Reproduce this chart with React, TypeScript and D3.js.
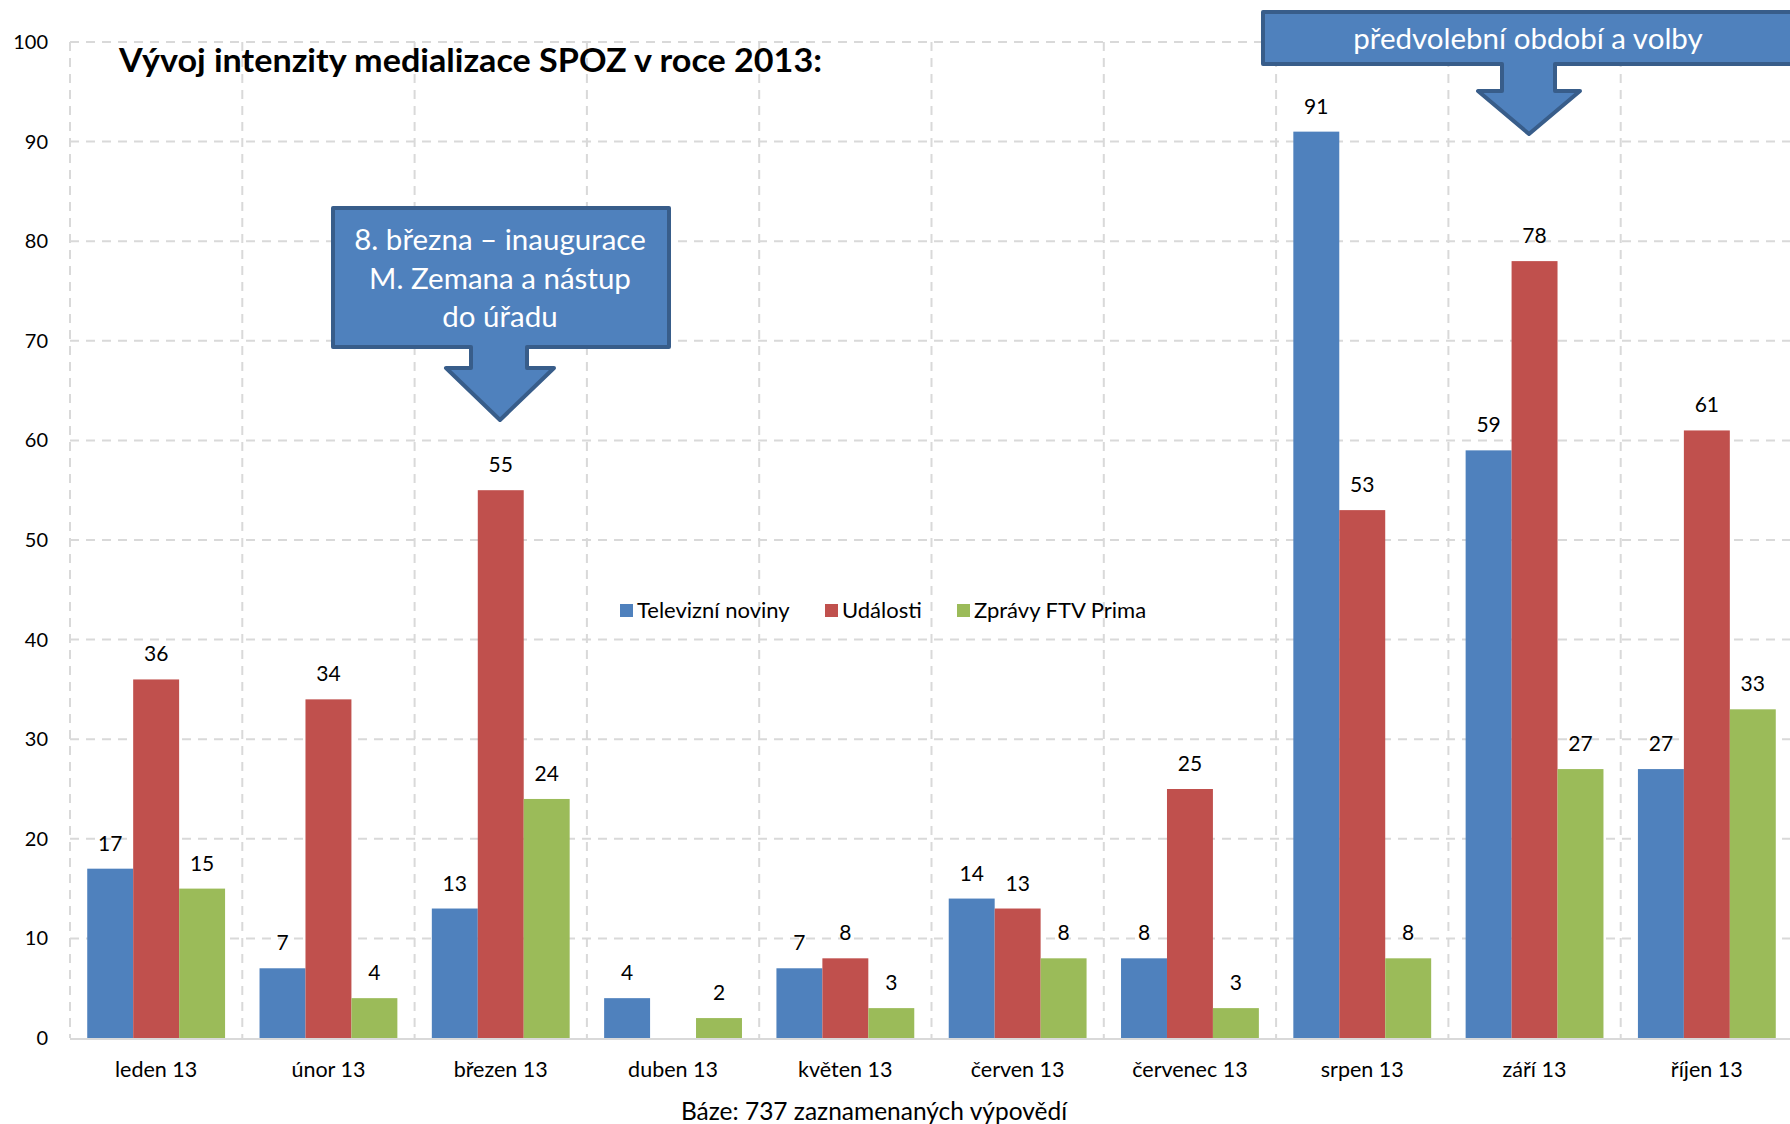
import React from "react";
import * as d3 from "d3";

const categories = ["leden 13", "únor 13", "březen 13", "duben 13", "květen 13", "červen 13", "červenec 13", "srpen 13", "září 13", "říjen 13"];
const seriesNames = ["Televizní noviny", "Události", "Zprávy FTV Prima"];
const televizniNoviny: (number | null)[] = [17, 7, 13, 4, 7, 14, 8, 91, 59, 27];
const udalosti: (number | null)[] = [36, 34, 55, null, 8, 13, 25, 53, 78, 61];
const zpravyPrima: (number | null)[] = [15, 4, 24, 2, 3, 8, 3, 8, 27, 33];
const yTicks = [0, 10, 20, 30, 40, 50, 60, 70, 80, 90, 100];
const colors = ["#4F81BD", "#C0504D", "#9BBB59"];

const W = 1790;
const H = 1124;
const FONT = "Lato, 'Open Sans', sans-serif";

export default function App() {
  const left = 70;
  const right = 1793;
  const top = 42;
  const bottom = 1038;
  const series = [televizniNoviny, udalosti, zpravyPrima];

  const x0 = d3.scaleBand<string>().domain(categories).range([left, right]).padding(0);
  const x1 = d3
    .scaleBand<string>()
    .domain(seriesNames)
    .range([x0.bandwidth() * 0.1, x0.bandwidth() * 0.9])
    .padding(0);
  const y = d3.scaleLinear().domain([0, 100]).range([bottom, top]);

  const gridColor = "#D9D9D9";

  const c1 = { x: 333, y: 208, w: 336, h: 139, stemL: 471, stemR: 527, stemB: 368, headL: 446, headR: 554, tipX: 500, tipY: 420 };
  const c2 = { x: 1263, y: 12, w: 560, h: 52, stemL: 1502, stemR: 1555, stemB: 91, headL: 1478, headR: 1580, tipX: 1529, tipY: 134 };
  const calloutPath = (c: typeof c1) =>
    `M${c.x},${c.y} H${c.x + c.w} V${c.y + c.h} H${c.stemR} V${c.stemB} H${c.headR} L${c.tipX},${c.tipY} L${c.headL},${c.stemB} H${c.stemL} V${c.y + c.h} H${c.x} Z`;

  return (
    <svg width={W} height={H} style={{ display: "block", position: "absolute", left: 0, top: 0 }} fontFamily={FONT}>
      <rect x={0} y={0} width={W} height={H} fill="#fff" />
      {yTicks.filter((t) => t > 0).map((t) => (
        <line key={"h" + t} x1={left} x2={right} y1={y(t)} y2={y(t)} stroke={gridColor} strokeWidth={2} strokeDasharray="9,7" />
      ))}
      {categories.map((c) => (
        <line key={"v" + c} x1={x0(c)!} x2={x0(c)!} y1={top} y2={bottom} stroke={gridColor} strokeWidth={2} strokeDasharray="9,7" />
      ))}
      <line x1={left} x2={right} y1={bottom + 1} y2={bottom + 1} stroke="#D9D9D9" strokeWidth={2} />
      {yTicks.map((t) => (
        <text key={"yt" + t} x={48} y={y(t)} dy="0.35em" textAnchor="end" fontSize={20} fill="#000">
          {t}
        </text>
      ))}
      {categories.map((c, i) => (
        <g key={"g" + c} transform={`translate(${x0(c)},0)`}>
          {series.map((s, si) => {
            const v = s[i];
            if (v === null || v === undefined) return null;
            const bx = x1(seriesNames[si])!;
            return (
              <g key={si}>
                <rect x={bx} y={y(v)} width={x1.bandwidth()} height={y(0) - y(v)} fill={colors[si]} />
                <text x={bx + x1.bandwidth() / 2} y={y(v) - 18} textAnchor="middle" fontSize={21} fill="#000">
                  {v}
                </text>
              </g>
            );
          })}
          <text x={x0.bandwidth() / 2} y={1077} textAnchor="middle" fontSize={21.5} fill="#000">
            {c}
          </text>
        </g>
      ))}
      <text x={119} y={72} fontSize={33} fontWeight="bold" fill="#000" textLength={703} lengthAdjust="spacingAndGlyphs">
        Vývoj intenzity medializace SPOZ v roce 2013:
      </text>
      {seriesNames.map((n, i) => {
        const lx = [620, 825, 957][i];
        return (
          <g key={"lg" + n}>
            <rect x={lx} y={604} width={13} height={13} fill={colors[i]} />
            <text x={lx + 17} y={618} fontSize={22} fill="#000">
              {n}
            </text>
          </g>
        );
      })}
      <text x={874} y={1120} textAnchor="middle" fontSize={24.5} fill="#000">
        Báze: 737 zaznamenaných výpovědí
      </text>
      <path d={calloutPath(c1)} fill="#4F81BD" stroke="#385D8A" strokeWidth={4} strokeLinejoin="round" />
      {["8. března – inaugurace", "M. Zemana a nástup", "do úřadu"].map((l, i) => (
        <text key={"c1" + i} x={500} y={250 + i * 38.5} textAnchor="middle" fontSize={29.5} fill="#fff">
          {l}
        </text>
      ))}
      <path d={calloutPath(c2)} fill="#4F81BD" stroke="#385D8A" strokeWidth={4} strokeLinejoin="round" />
      <text x={1528} y={49} textAnchor="middle" fontSize={29.5} fill="#fff">
        předvolební období a volby
      </text>
    </svg>
  );
}
